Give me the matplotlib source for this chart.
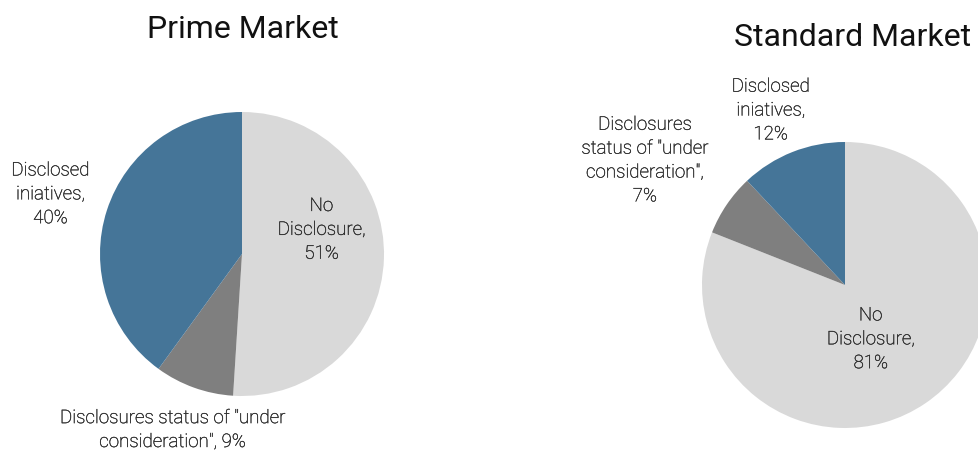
import matplotlib
matplotlib.use("Agg")
import matplotlib.pyplot as plt
import matplotlib.patheffects as pe

plt.rcParams['font.family'] = ['Roboto', 'DejaVu Sans']

categories = ["No\nDisclosure", "Disclosures status of \"under\nconsideration\"", "Disclosed\niniatives"]
categories_std = ["No\nDisclosure", "Disclosures\nstatus of \"under\nconsideration\"", "Disclosed\niniatives"]
prime_values = [51, 9, 40]
standard_values = [81, 7, 12]
colors = ["#d9d9d9", "#7f7f7f", "#457598"]

W, H = 979, 451
fig = plt.figure(figsize=(W / 100, H / 100), dpi=100)


def pie_axes(cx, cy, r):
    # axes box in pixel coords (y measured from top)
    return fig.add_axes([(cx - r) / W, 1 - (cy + r) / H, 2 * r / W, 2 * r / H])


def draw_pie(ax, values, labels, label_pos, sep):
    ax.pie(values, colors=colors, startangle=90, counterclock=False,
           radius=1, wedgeprops=dict(linewidth=0))
    ax.set_xlim(-1, 1)
    ax.set_ylim(-1, 1)
    ax.set_aspect("equal")
    ax.axis("off")
    for lab, v, (x, y), s in zip(labels, values, label_pos, sep):
        ax.text(x, y, f"{lab},{s}{v}%", ha="center", va="center",
                fontsize=13.5, fontweight="light", color="#2b2b2b",
                linespacing=1.42, clip_on=False,
                path_effects=[pe.withStroke(linewidth=0.25, foreground="#2b2b2b")])


ax1 = pie_axes(242, 254, 142)
draw_pie(ax1, prime_values, categories,
         [(0.56, 0.17), (-0.49, -1.24), (-1.35, 0.42)], ["\n", " ", "\n"])

ax2 = pie_axes(845, 285, 143)
draw_pie(ax2, standard_values, categories_std,
         [(0.18, -0.38), (-1.40, 0.87), (-0.52, 1.22)], ["\n", "\n", "\n"])

fig.text(243 / W, 1 - 29 / H, "Prime Market", ha="center", va="center",
         fontsize=23, color="#111111")
fig.text(853 / W, 1 - 37 / H, "Standard Market", ha="center", va="center",
         fontsize=23, color="#111111")

fig.savefig("out.png", dpi=100)
